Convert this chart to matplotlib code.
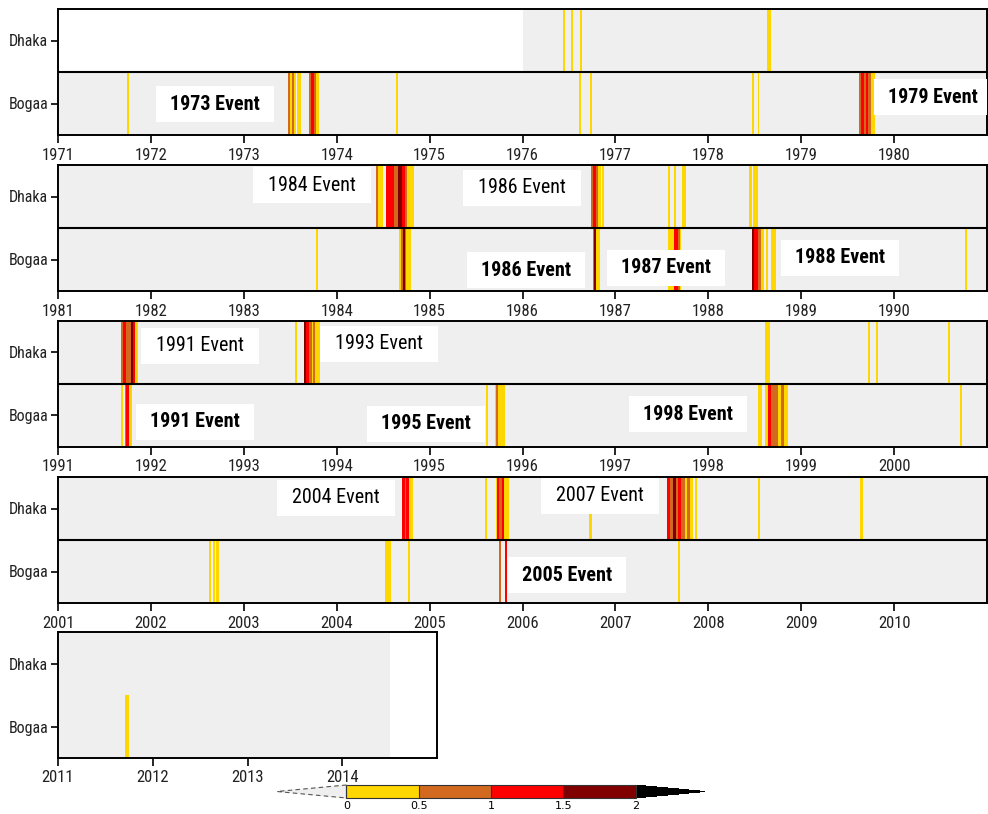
import matplotlib
matplotlib.use("Agg")
import matplotlib.pyplot as plt
from matplotlib import font_manager
from matplotlib.colors import ListedColormap, BoundaryNorm
from matplotlib.cm import ScalarMappable
from matplotlib.patches import Rectangle

# drought severity classes
levels = [0, 0.5, 1, 1.5, 2]
level_labels = ["0", "0.5", "1", "1.5", "2"]
class_colors = ["#ffd700", "#d2691e", "#ff0000", "#800000"]

stations = ["Dhaka", "Bogaa"]
record_span = {"Dhaka": (1976.0, 2014.5), "Bogaa": (1971.0, 2014.5)}
decades = [(1971, 1981), (1981, 1991), (1991, 2001), (2001, 2011), (2011, 2015)]

# (start, end, severity) in decimal years
dhaka_events = [
    (1976.44, 1976.46, 0.25), (1976.52, 1976.54, 0.25), (1976.62, 1976.64, 0.25),
    (1978.635, 1978.67, 0.25),
    (1984.42, 1984.44, 0.75), (1984.44, 1984.50, 0.25), (1984.53, 1984.62, 1.25),
    (1984.62, 1984.66, 0.75), (1984.66, 1984.70, 1.75), (1984.70, 1984.73, 1.25),
    (1984.73, 1984.76, 0.75), (1984.76, 1984.83, 0.25),
    (1986.74, 1986.76, 0.75), (1986.76, 1986.79, 1.25), (1986.79, 1986.81, 0.75),
    (1986.81, 1986.84, 0.25), (1986.86, 1986.88, 0.25),
    (1987.57, 1987.59, 0.25), (1987.63, 1987.65, 0.25), (1987.72, 1987.76, 0.25),
    (1988.44, 1988.47, 0.25), (1988.48, 1988.53, 0.25),
    (1991.68, 1991.70, 0.75), (1991.70, 1991.73, 1.25), (1991.73, 1991.79, 0.75),
    (1991.79, 1991.81, 1.75), (1991.81, 1991.83, 1.25), (1991.83, 1991.86, 0.25),
    (1993.55, 1993.57, 0.25), (1993.65, 1993.67, 1.75), (1993.67, 1993.70, 1.25),
    (1993.70, 1993.73, 0.75), (1993.73, 1993.75, 0.25), (1993.75, 1993.77, 0.75),
    (1993.77, 1993.82, 0.25),
    (1998.61, 1998.66, 0.25),
    (1999.72, 1999.74, 0.25), (1999.80, 1999.81, 0.75), (1999.81, 1999.83, 0.25),
    (2000.58, 2000.60, 0.25),
    (2004.70, 2004.73, 1.25), (2004.73, 2004.75, 0.75), (2004.75, 2004.78, 1.25),
    (2004.78, 2004.82, 0.25),
    (2005.60, 2005.62, 0.25), (2005.71, 2005.73, 0.25), (2005.73, 2005.75, 1.25),
    (2005.75, 2005.78, 0.75), (2005.78, 2005.80, 1.25), (2005.80, 2005.85, 0.25),
    (2006.72, 2006.745, 0.25),
    (2007.56, 2007.59, 1.25), (2007.59, 2007.62, 0.75), (2007.62, 2007.65, 1.75),
    (2007.65, 2007.67, 0.75), (2007.67, 2007.71, 1.25), (2007.71, 2007.75, 0.75),
    (2007.75, 2007.77, 0.25), (2007.77, 2007.80, 0.75), (2007.80, 2007.84, 0.25),
    (2007.86, 2007.88, 0.25),
    (2008.53, 2008.56, 0.25),
    (2009.63, 2009.67, 0.25),
]

bogaa_events = [
    (1971.74, 1971.76, 0.25),
    (1973.48, 1973.50, 0.75), (1973.50, 1973.52, 0.25), (1973.52, 1973.54, 0.75),
    (1973.54, 1973.56, 0.25), (1973.57, 1973.62, 0.25), (1973.70, 1973.72, 0.75),
    (1973.72, 1973.76, 1.25), (1973.76, 1973.78, 0.75), (1973.78, 1973.81, 0.25),
    (1974.64, 1974.66, 0.25),
    (1976.61, 1976.63, 0.25), (1976.73, 1976.75, 0.25),
    (1978.47, 1978.49, 0.25), (1978.53, 1978.55, 0.25),
    (1979.62, 1979.64, 0.75), (1979.64, 1979.68, 1.25), (1979.68, 1979.70, 0.75),
    (1979.70, 1979.72, 1.25), (1979.72, 1979.75, 0.75), (1979.75, 1979.79, 0.25),
    (1983.78, 1983.80, 0.25),
    (1984.67, 1984.69, 0.25), (1984.69, 1984.71, 0.75), (1984.71, 1984.73, 1.75),
    (1984.73, 1984.75, 0.75), (1984.75, 1984.80, 0.25),
    (1986.76, 1986.77, 0.75), (1986.77, 1986.79, 1.75), (1986.79, 1986.83, 0.25),
    (1987.57, 1987.63, 0.25), (1987.63, 1987.67, 1.25), (1987.67, 1987.69, 0.75),
    (1987.69, 1987.71, 0.25),
    (1988.47, 1988.49, 1.75), (1988.49, 1988.54, 1.25), (1988.54, 1988.57, 0.75),
    (1988.57, 1988.60, 0.25), (1988.62, 1988.64, 0.25), (1988.67, 1988.73, 0.25),
    (1990.76, 1990.78, 0.25),
    (1991.68, 1991.70, 0.25), (1991.72, 1991.73, 0.75), (1991.73, 1991.76, 1.25),
    (1991.76, 1991.80, 0.25),
    (1995.61, 1995.63, 0.25), (1995.70, 1995.72, 0.25), (1995.72, 1995.74, 0.75),
    (1995.74, 1995.81, 0.25),
    (1998.53, 1998.58, 0.25), (1998.61, 1998.64, 0.25), (1998.64, 1998.68, 1.25),
    (1998.68, 1998.75, 0.75), (1998.75, 1998.78, 0.25), (1998.78, 1998.81, 0.75),
    (1998.81, 1998.86, 0.25),
    (2000.71, 2000.73, 0.25),
    (2002.63, 2002.65, 0.25), (2002.665, 2002.685, 0.25), (2002.70, 2002.73, 0.25),
    (2004.52, 2004.58, 0.25),
    (2004.77, 2004.79, 0.25),
    (2005.75, 2005.77, 0.75), (2005.81, 2005.83, 1.25),
    (2007.675, 2007.70, 0.25),
    (2011.71, 2011.75, 0.25),
]

events = {"Dhaka": dhaka_events, "Bogaa": bogaa_events}

# event annotations: text, decade index, x (year), y (row units, 0-2), bold
event_notes = [
    ("1973 Event", 0, 1972.69, 0.49, True),
    ("1979 Event", 0, 1980.42, 0.60, True),
    ("1984 Event", 1, 1983.73, 1.68, False),
    ("1986 Event", 1, 1985.99, 1.64, False),
    ("1986 Event", 1, 1986.04, 0.33, True),
    ("1987 Event", 1, 1987.54, 0.37, True),
    ("1988 Event", 1, 1989.42, 0.53, True),
    ("1991 Event", 2, 1992.53, 1.61, False),
    ("1993 Event", 2, 1994.46, 1.64, False),
    ("1991 Event", 2, 1992.47, 0.40, True),
    ("1995 Event", 2, 1994.96, 0.37, True),
    ("1998 Event", 2, 1997.78, 0.52, True),
    ("2004 Event", 3, 2003.99, 1.67, False),
    ("2007 Event", 3, 2006.83, 1.70, False),
    ("2005 Event", 3, 2006.48, 0.44, True),
]

NO_EVENT = -1.0

# narrow sans for labels, falling back to Liberation Sans
names = {f.name for f in font_manager.fontManager.ttflist}
narrow_font = next((n for n in ["Liberation Sans Narrow", "Roboto Condensed",
                                "PT Sans Narrow", "Fira Sans Condensed",
                                "Barlow Semi Condensed"] if n in names), None)
if narrow_font:
    tick_size, note_size = 12, 14.5
else:
    narrow_font, tick_size, note_size = "Liberation Sans", 10, 12

cmap = ListedColormap(class_colors)
cmap.set_under("#efefef")
cmap.set_over("black")
norm = BoundaryNorm(levels, cmap.N)


def row_cells(evts, t0, t1):
    edges, vals = [t0], []
    for s, e, v in sorted(evts):
        s, e = max(s, t0, edges[-1]), min(e, t1)
        if e <= s:
            continue
        if s > edges[-1]:
            vals.append(NO_EVENT)
            edges.append(s)
        vals.append(v)
        edges.append(e)
    if t1 > edges[-1]:
        vals.append(NO_EVENT)
        edges.append(t1)
    return edges, vals


W, H = 988, 814
fig = plt.figure(figsize=(W / 100, H / 100), dpi=100)

panel_tops = [9, 165, 321, 477, 632]
panel_h = 126
px_per_year = 92.9
box_w, box_h = 118, 36

axes = []
for i, (x0, x1) in enumerate(decades):
    width_px = 929 if i < 4 else 379
    ax = fig.add_axes([58 / W, 1 - (panel_tops[i] + panel_h) / H, width_px / W, panel_h / H])
    axes.append(ax)
    for st in stations:
        y0, y1 = (1, 2) if st == "Dhaka" else (0, 1)
        t0 = max(x0, record_span[st][0])
        t1 = min(x1, record_span[st][1])
        if t1 <= t0:
            continue
        edges, vals = row_cells(events[st], t0, t1)
        ax.pcolormesh(edges, [y0, y1], [vals], cmap=cmap, norm=norm,
                      shading="flat", antialiased=False, linewidth=0)
    if i < 4:
        ax.axhline(1, color="black", lw=1.5, zorder=3)
    ax.set_xlim(x0, x1)
    ax.set_ylim(0, 2)
    ax.set_xticks(range(x0, x1))
    ax.set_xticklabels([str(y) for y in range(x0, x1)], fontsize=tick_size,
                       family=narrow_font, color="#222222")
    ax.set_yticks([1.5, 0.5])
    ax.set_yticklabels(stations, fontsize=tick_size - 0.5, family=narrow_font,
                       color="#222222")
    ax.tick_params(axis="x", length=6, width=1.2, pad=3, direction="out")
    ax.tick_params(axis="y", length=5, width=1.2, pad=2, direction="out")
    for sp in ax.spines.values():
        sp.set_linewidth(1.4)
        sp.set_zorder(4)

for text, i, x, y, bold in event_notes:
    ax = axes[i]
    bw = box_w / px_per_year
    bh = box_h / (panel_h / 2)
    ax.add_patch(Rectangle((x - bw / 2, y - bh / 2), bw, bh, facecolor="white",
                           edgecolor="none", zorder=5))
    ax.text(x, y, text, ha="center", va="center", fontsize=note_size,
            family=narrow_font, fontweight="bold" if bold else "normal",
            color="black", zorder=6)

# colour key, extension triangles included in the axes width
cax = fig.add_axes([277 / W, 1 - 798 / H, 428 / W, 13 / H])
cb = fig.colorbar(ScalarMappable(norm=norm, cmap=cmap), cax=cax,
                  orientation="horizontal", extend="both", extendfrac=0.24,
                  drawedges=True, ticks=levels)
cb.outline.set_visible(False)
cb.dividers.set_color("#333333")
cb.dividers.set_linewidth(0.8)
cax.add_patch(Rectangle((0, 0), 1, 1, transform=cax.transAxes, fill=False,
                        edgecolor="#333333", lw=0.8, clip_on=False))
cax.plot([0, -0.24, 0], [1, 0.5, 0], transform=cax.transAxes, ls=(0, (4, 3)),
         color="#555555", lw=0.8, clip_on=False)
cb.set_ticklabels(level_labels)
cax.tick_params(length=0, pad=2, labelsize=8)

fig.savefig("out.png", dpi=100)
